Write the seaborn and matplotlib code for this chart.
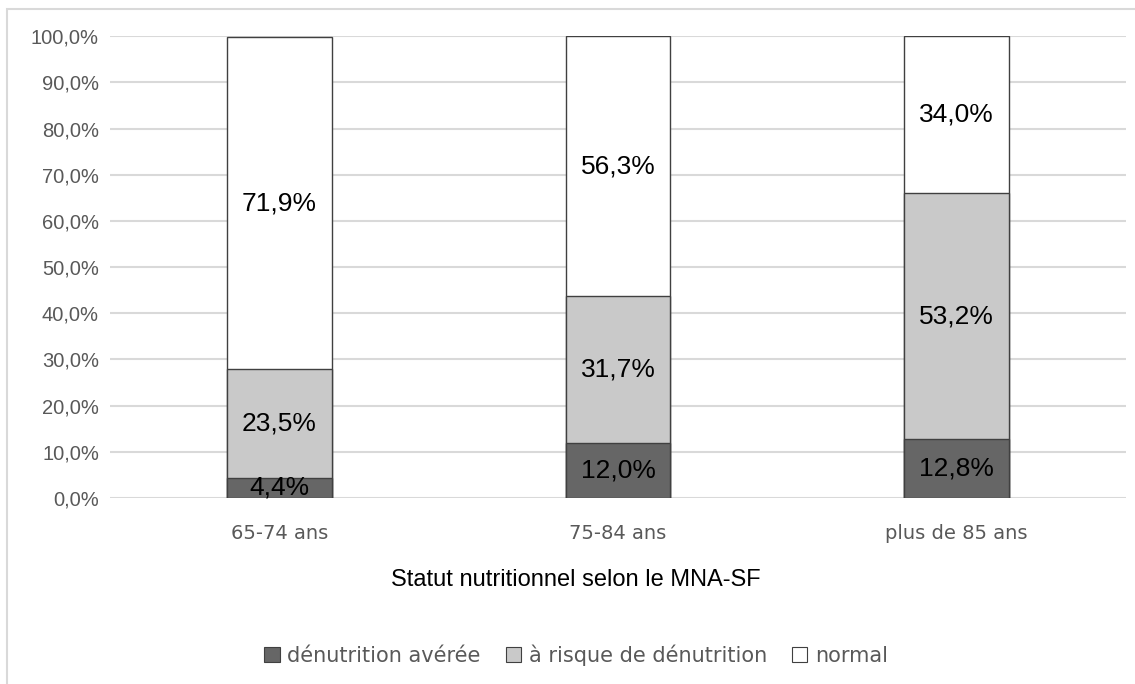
import matplotlib
matplotlib.use("Agg")
import matplotlib.pyplot as plt
from matplotlib.patches import Rectangle, Patch
import numpy as np
import pandas as pd
import seaborn as sns

groups = ["65-74 ans", "75-84 ans", "plus de 85 ans"]
denutrition = [4.4, 12.0, 12.8]
risque = [23.5, 31.7, 53.2]
normal = [71.9, 56.3, 34.0]
series_names = ["dénutrition avérée", "à risque de dénutrition", "normal"]
yticks = np.arange(0, 101, 10)

colors = ["#666666", "#c9c9c9", "#ffffff"]

sns.set_theme(style="white")
plt.rcParams["font.family"] = ["Liberation Sans", "DejaVu Sans"]

df = pd.DataFrame({"groupe": groups, "d": denutrition, "r": risque, "n": normal})
df["c1"] = df["d"]
df["c2"] = df["d"] + df["r"]
df["c3"] = df["c2"] + df["n"]

fig = plt.figure(figsize=(11.35, 6.84), dpi=100)
ax = fig.add_axes([0.097, 0.272, 0.895, 0.675])

# stacked bars drawn back to front (cumulative totals)
for col, color in zip(["c3", "c2", "c1"], colors[::-1]):
    sns.barplot(data=df, x="groupe", y=col, color=color, width=0.31,
                edgecolor="#404040", linewidth=1, saturation=1, ax=ax, zorder=3)

# labels at segment centres
for i, row in df.iterrows():
    lows = [0, row["c1"], row["c2"]]
    vals = [row["d"], row["r"], row["n"]]
    for lo, v in zip(lows, vals):
        ax.text(i, lo + v / 2, f"{v:.1f}%".replace(".", ","), ha="center",
                va="center", fontsize=19, color="black", zorder=5)

ax.set_ylim(0, 100)
ax.set_xlim(-0.5, 2.5)
ax.set_yticks(yticks)
ax.set_yticklabels([f"{t:.1f}%".replace(".", ",") for t in yticks],
                   fontsize=14.5, color="#595959")
ax.set_xticks(range(len(groups)))
ax.set_xticklabels(groups, fontsize=14, color="#595959",
                   family=["DejaVu Sans"])
ax.tick_params(axis="both", length=0, pad=8)
ax.tick_params(axis="x", pad=19)
ax.set_ylabel("")
ax.set_xlabel("")
ax.yaxis.grid(True, color="#d9d9d9", linewidth=1.5, zorder=0)
ax.set_axisbelow(True)
for s in ax.spines.values():
    s.set_visible(False)

fig.text(0.5075, 1 - 580 / 684, "Statut nutritionnel selon le MNA-SF",
         ha="center", va="center", fontsize=17, color="black")

handles = [Patch(facecolor=c, edgecolor="#404040", linewidth=0.8) for c in colors]
fig.legend(handles, series_names, loc="center", bbox_to_anchor=(0.5075, 1 - 655 / 684),
           ncol=3, frameon=False, handlelength=0.75,
           handleheight=0.75, handletextpad=0.35, columnspacing=1.2,
           labelcolor="#595959", prop={"family": ["DejaVu Sans"], "size": 15})

fig.patches.append(Rectangle((7 / 1135, -0.1), 1.2, 1.1 - 9 / 684,
                             transform=fig.transFigure, fill=False,
                             edgecolor="#d9d9d9", linewidth=1.5))

fig.savefig("out.png", dpi=100)
